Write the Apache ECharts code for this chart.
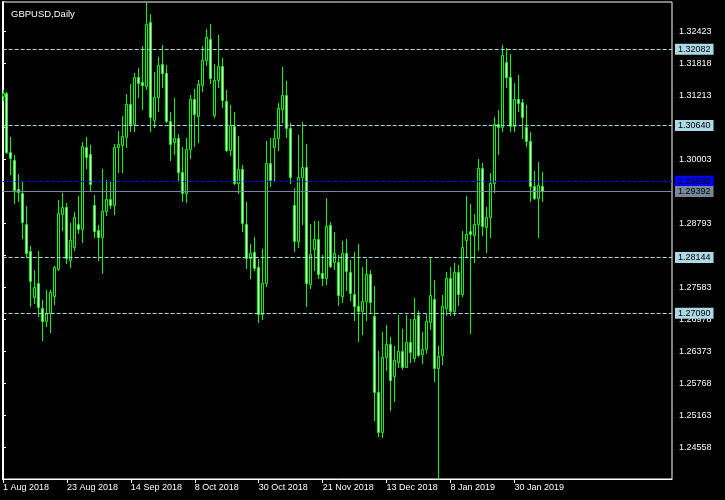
<!DOCTYPE html>
<html>
<head>
<meta charset="utf-8">
<script src="https://cdn.jsdelivr.net/npm/echarts@6/dist/echarts.min.js"></script>
<style>
html,body{margin:0;padding:0;background:#000;}
#chart{width:725px;height:500px;}
</style>
</head>
<body>
<div id="chart"></div>
<script>
// ---- data (GBPUSD daily, 1 Aug 2018 .. 8 Feb 2019) ----
const symbolTitle = 'GBPUSD,Daily';
const tickLabels = ['1 Aug 2018','23 Aug 2018','14 Sep 2018','8 Oct 2018','30 Oct 2018','21 Nov 2018','13 Dec 2018','8 Jan 2019','30 Jan 2019'];
const openPrices = [
1.3119,1.3125,1.3014,1.2998,1.2944,1.2937,1.2877,1.2826,1.2739,1.2766,
1.2718,1.2694,1.2710,1.2741,1.2793,1.2896,1.2910,1.2810,1.2835,1.2877,
1.2869,1.3023,1.3010,1.2913,1.2866,1.2853,1.2903,1.2925,1.2914,1.3024,
1.3028,1.3043,1.3104,1.3066,1.3155,1.3146,1.3138,1.3259,1.3075,1.3118,
1.3180,1.3163,1.3072,1.3033,1.3040,1.2976,1.2937,1.3019,1.3114,1.3082,
1.3141,1.3188,1.3228,1.3083,1.3150,1.3176,1.3110,1.3017,1.3064,1.2955,
1.2981,1.2878,1.2814,1.2824,1.2796,1.2708,1.2767,1.2993,1.3023,1.3040,
1.3096,1.3122,1.3059,1.2913,1.2846,1.2966,1.2986,1.2764,1.2830,1.2849,
1.2785,1.2776,1.2875,1.2805,1.2806,1.2742,1.2823,1.2786,1.2745,1.2722,
1.2714,1.2732,1.2783,1.2704,1.2560,1.2485,1.2626,1.2651,1.2590,1.2617,
1.2638,1.2608,1.2654,1.2625,1.2705,1.2631,1.2641,1.2693,1.2735,1.2605,
1.2630,1.2718,1.2775,1.2713,1.2787,1.2746,1.2848,1.2864,1.2856,1.2877,
1.2984,1.2872,1.2891,1.2956,1.3067,1.3062,1.3184,1.3155,1.3064,1.3114,
1.3108,1.3061,1.3034,1.2949,1.2927,1.2949];
const highPrices = [
1.3131,1.3128,1.3042,1.3008,1.2972,1.2957,1.2912,1.2836,1.2791,1.2826,
1.2734,1.2753,1.2753,1.2799,1.2923,1.2937,1.2917,1.2879,1.2901,1.2931,
1.3033,1.3042,1.3027,1.2932,1.2876,1.2981,1.2961,1.2957,1.3029,1.3053,
1.3082,1.3124,1.3143,1.3163,1.3172,1.3215,1.3296,1.3275,1.3165,1.3194,
1.3216,1.3178,1.3090,1.3116,1.3048,1.3023,1.3041,1.3122,1.3133,1.3150,
1.3215,1.3247,1.3256,1.3180,1.3235,1.3191,1.3131,1.3102,1.3090,1.3044,
1.2990,1.2920,1.2840,1.2853,1.2811,1.2831,1.3035,1.3041,1.3056,1.3107,
1.3175,1.3148,1.3068,1.2946,1.3046,1.3071,1.3029,1.2878,1.2884,1.2884,
1.2819,1.2927,1.2882,1.2863,1.2819,1.2846,1.2850,1.2810,1.2825,1.2840,
1.2797,1.2812,1.2791,1.2760,1.2638,1.2673,1.2687,1.2663,1.2647,1.2706,
1.2680,1.2706,1.2698,1.2738,1.2714,1.2674,1.2707,1.2813,1.2772,1.2647,
1.2743,1.2787,1.2797,1.2804,1.2800,1.2865,1.2931,1.2916,1.2897,1.3000,
1.2993,1.2910,1.2974,1.3080,1.3094,1.3216,1.3210,1.3199,1.3144,1.3159,
1.3114,1.3103,1.3052,1.2978,1.2995,1.2976];
const lowPrices = [
1.3112,1.3012,1.2973,1.2918,1.2922,1.2852,1.2816,1.2722,1.2729,1.2703,
1.2659,1.2684,1.2674,1.2727,1.2791,1.2867,1.2804,1.2797,1.2828,1.2860,
1.2843,1.2983,1.2942,1.2854,1.2810,1.2785,1.2894,1.2908,1.2896,1.2977,
1.2976,1.3024,1.3054,1.3054,1.3118,1.3096,1.3133,1.3053,1.3061,1.3092,
1.3137,1.3070,1.2998,1.3010,1.2961,1.2922,1.2920,1.3002,1.3026,1.3032,
1.3130,1.3179,1.3145,1.3080,1.3137,1.3100,1.3015,1.3009,1.2953,1.2936,
1.2865,1.2795,1.2775,1.2790,1.2693,1.2698,1.2761,1.2950,1.2961,1.3018,
1.3071,1.3043,1.2956,1.2826,1.2835,1.2878,1.2722,1.2756,1.2791,1.2775,
1.2763,1.2765,1.2797,1.2793,1.2724,1.2731,1.2753,1.2733,1.2697,1.2657,
1.2670,1.2697,1.2709,1.2506,1.2477,1.2475,1.2602,1.2526,1.2542,1.2608,
1.2604,1.2607,1.2616,1.2619,1.2628,1.2614,1.2634,1.2679,1.2580,1.2396,
1.2613,1.2705,1.2705,1.2706,1.2725,1.2742,1.2816,1.2672,1.2806,1.2829,
1.2856,1.2825,1.2854,1.2938,1.3011,1.3054,1.3136,1.3054,1.3053,1.3092,
1.3041,1.3026,1.2922,1.2925,1.2853,1.2921];
const closePrices = [
1.3126,1.3014,1.3002,1.2942,1.2939,1.2881,1.2823,1.2769,1.2758,1.2721,
1.2694,1.2709,1.2749,1.2796,1.2898,1.2910,1.2813,1.2847,1.2891,1.2869,
1.3026,1.3005,1.2954,1.2865,1.2853,1.2902,1.2925,1.2913,1.3024,1.3029,
1.3044,1.3104,1.3067,1.3155,1.3145,1.3141,1.3257,1.3080,1.3118,1.3178,
1.3163,1.3072,1.3029,1.3041,1.2977,1.2936,1.3019,1.3114,1.3085,1.3143,
1.3188,1.3231,1.3154,1.3150,1.3176,1.3112,1.3017,1.3065,1.2955,1.2981,
1.2879,1.2814,1.2823,1.2795,1.2707,1.2767,1.2993,1.2961,1.3041,1.3097,
1.3121,1.3059,1.2967,1.2846,1.2966,1.2985,1.2767,1.2821,1.2849,1.2784,
1.2775,1.2874,1.2799,1.2823,1.2743,1.2823,1.2788,1.2747,1.2722,1.2714,
1.2732,1.2783,1.2731,1.2559,1.2485,1.2626,1.2651,1.2582,1.2620,1.2637,
1.2608,1.2654,1.2635,1.2698,1.2630,1.2641,1.2695,1.2743,1.2605,1.2628,
1.2722,1.2775,1.2714,1.2787,1.2745,1.2834,1.2859,1.2858,1.2877,1.2984,
1.2873,1.2891,1.2956,1.3067,1.3062,1.3197,1.3155,1.3064,1.3114,1.3107,
1.3080,1.3034,1.2949,1.2927,1.2951,1.29392];
const levelLines = [1.32082, 1.30640, 1.28144, 1.27090];   // light-blue dashed levels
const blueLevel = 1.29586;                                   // blue dashed level
const bidLevel = 1.29392;                                    // grey bid line
const priceMin = 1.23953, priceMax = 1.32977, priceStep = 0.00605;
const barMin = -0.075, barMax = 167.425;                     // visible bar-index window (incl. right shift)
const labelEvery = 16;

const candleData = openPrices.map((o, i) => [i, o, closePrices[i], lowPrices[i], highPrices[i]]);
const labelIdx = tickLabels.map((_, j) => j * labelEvery);

const FONT = "'Liberation Sans', Arial, sans-serif";
const GREEN = '#00ff00';

function boxLabel(bg) {
  return {
    show: true, position: 'end', distance: 3,
    formatter: p => Number(p.value).toFixed(5),
    backgroundColor: bg, color: '#000000',
    fontFamily: FONT, fontSize: 9, padding: [1, 3, 0, 3], lineHeight: 10
  };
}

function renderCandle(params, api) {
  const k = api.value(0);
  const o = api.value(1), c = api.value(2), l = api.value(3), h = api.value(4);
  const pO = api.coord([k, o]), pC = api.coord([k, c]);
  const pL = api.coord([k, l]), pH = api.coord([k, h]);
  const cx = Math.floor(pO[0]) + 0.5;
  const yTop = Math.round(Math.min(pO[1], pC[1])) + 0.5;
  const yBot = Math.round(Math.max(pO[1], pC[1])) + 0.5;
  const rising = c > o;
  return {
    type: 'group',
    children: [
      {type: 'line', shape: {x1: cx, y1: Math.round(pH[1]), x2: cx, y2: Math.round(pL[1]) + 1},
       style: {stroke: GREEN, lineWidth: 1}},
      {type: 'rect', shape: {x: cx - 1, y: yTop, width: 2, height: Math.max(yBot - yTop, 0)},
       style: {fill: rising ? '#000000' : '#ffffff', stroke: GREEN, lineWidth: 1}}
    ]
  };
}

const chart = echarts.init(document.getElementById('chart'), null, {renderer: 'canvas'});
chart.setOption({
  animation: false,
  backgroundColor: '#000000',
  title: {
    text: symbolTitle, left: 6, top: 4,
    textStyle: {color: '#ffffff', fontSize: 9.5, fontWeight: 'normal', fontFamily: FONT}
  },
  grid: {left: 2, right: 53, top: 2, bottom: 21, show: true, borderColor: '#ffffff', borderWidth: 1, backgroundColor: 'transparent'},
  xAxis: {
    type: 'value', min: barMin, max: barMax,
    axisLine: {show: true, onZero: false, lineStyle: {color: '#ffffff', width: 1}},
    axisTick: {show: true, length: 4, customValues: labelIdx, lineStyle: {color: '#ffffff'}},
    axisLabel: {
      customValues: labelIdx, color: '#ffffff', fontFamily: FONT, fontSize: 9, align: 'left', margin: 4,
      formatter: v => tickLabels[Math.round(v / labelEvery)] || ''
    },
    splitLine: {show: false}
  },
  yAxis: {
    type: 'value', position: 'right', min: priceMin, max: priceMax, interval: priceStep,
    axisLine: {show: true, lineStyle: {color: '#ffffff', width: 2}},
    axisTick: {show: true, length: 3, lineStyle: {color: '#ffffff'}},
    axisLabel: {
      color: '#ffffff', fontFamily: FONT, fontSize: 9, margin: 7,
      showMinLabel: false, showMaxLabel: false,
      formatter: v => v.toFixed(5)
    },
    splitLine: {show: false}
  },
  series: [{
    type: 'custom',
    data: candleData,
    encode: {x: 0, y: [1, 2, 3, 4]},
    renderItem: renderCandle,
    clip: true,
    markLine: {
      symbol: 'none', silent: true, animation: false, precision: 5,
      data: [
        ...levelLines.map(v => ({yAxis: v, lineStyle: {color: '#add8e6', type: [4, 2], width: 1}, label: boxLabel('#add8e6')})),
        {yAxis: blueLevel, lineStyle: {color: '#0000ff', type: [4, 2], width: 1}, label: boxLabel('#0000ff')},
        {yAxis: bidLevel, lineStyle: {color: '#778899', type: 'solid', width: 1}, label: boxLabel('#778899')}
      ]
    }
  }]
});
</script>
</body>
</html>
